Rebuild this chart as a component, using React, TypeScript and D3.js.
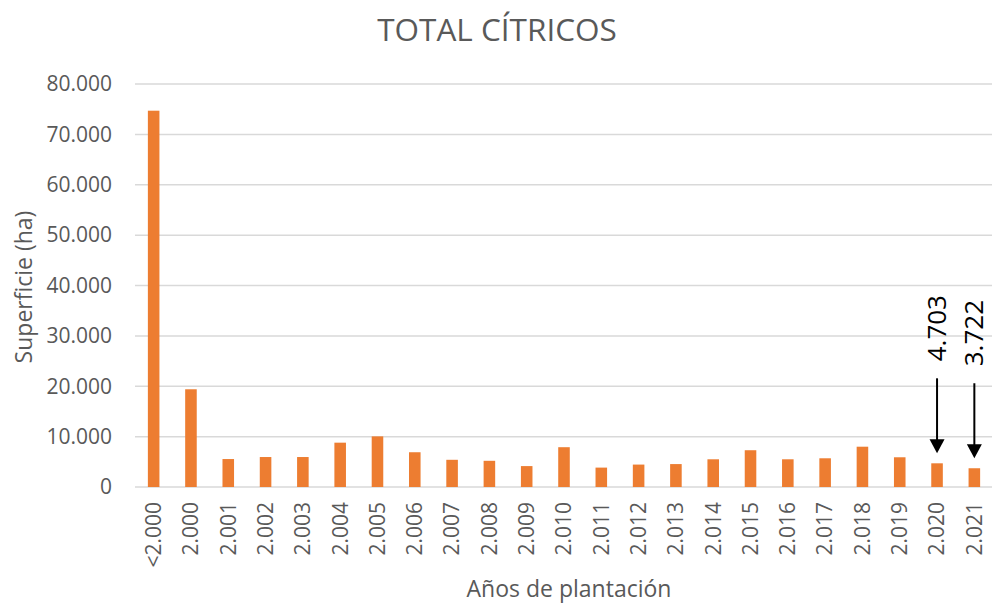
import React from "react";
import * as d3 from "d3";

const categories = ["<2.000", "2.000", "2.001", "2.002", "2.003", "2.004", "2.005", "2.006", "2.007", "2.008", "2.009", "2.010", "2.011", "2.012", "2.013", "2.014", "2.015", "2.016", "2.017", "2.018", "2.019", "2.020", "2.021"];
const superficie = [74700, 19400, 5550, 5950, 5950, 8800, 10050, 6900, 5400, 5200, 4150, 7900, 3850, 4450, 4550, 5500, 7300, 5500, 5700, 8000, 5900, 4703, 3722];
const yTicks = [0, 10000, 20000, 30000, 40000, 50000, 60000, 70000, 80000];
const annotated = ["2.020", "2.021"];

const W = 992;
const H = 606;
const FONT = "'Open Sans', sans-serif";
const GRAY = "#595959";

const fmt = (v: number) => (v === 0 ? "0" : d3.format(",")(v).replace(/,/g, "."));

export default function App() {
  const x = d3.scaleBand<string>().domain(categories).range([135, 993]).paddingInner(0.69).paddingOuter(0.345);
  const y = d3.scaleLinear().domain([0, 80000]).range([487, 84]);

  return (
    <svg width={W} height={H} style={{ position: "absolute", left: 0, top: 0, background: "#fff" }} fontFamily={FONT}>
      <rect width={W} height={H} fill="#fff" />
      <text x={497} y={41} textAnchor="middle" fontSize={31.5} fill={GRAY}>TOTAL CÍTRICOS</text>
      {yTicks.map((t) => (
        <g key={t}>
          <line x1={135} x2={992} y1={y(t)} y2={y(t)} stroke="#d9d9d9" strokeWidth={1.5} />
          <text x={112} y={y(t)} dy="0.35em" textAnchor="end" fontSize={21} fill={GRAY}>{fmt(t)}</text>
        </g>
      ))}
      {categories.map((c, i) => (
        <rect key={c} x={x(c)} y={y(superficie[i])} width={x.bandwidth()} height={y(0) - y(superficie[i])} fill="#ED7D31" />
      ))}
      {categories.map((c) => (
        <text key={c} transform={`translate(${(x(c) as number) + x.bandwidth() / 2},502) rotate(-90)`} dy="0.35em" textAnchor="end" fontSize={21} fill={GRAY}>{c}</text>
      ))}
      {annotated.map((c) => {
        const i = categories.indexOf(c);
        const cx = (x(c) as number) + x.bandwidth() / 2;
        const tip = y(superficie[i]) - 10;
        const top = tip - 75;
        return (
          <g key={c}>
            <line x1={cx} x2={cx} y1={top} y2={tip - 12} stroke="#000" strokeWidth={2} />
            <path d={`M${cx - 7.5},${tip - 14} L${cx + 7.5},${tip - 14} L${cx},${tip} Z`} fill="#000" />
            <text transform={`translate(${cx},${top - 17}) rotate(-90)`} dy="0.35em" textAnchor="start" fontSize={26} fill="#000">{fmt(superficie[i])}</text>
          </g>
        );
      })}
      <text transform="translate(32,287) rotate(-90)" textAnchor="middle" fontSize={23} fill={GRAY}>Superficie (ha)</text>
      <text x={569} y={597} textAnchor="middle" fontSize={23} fill={GRAY}>Años de plantación</text>
    </svg>
  );
}
